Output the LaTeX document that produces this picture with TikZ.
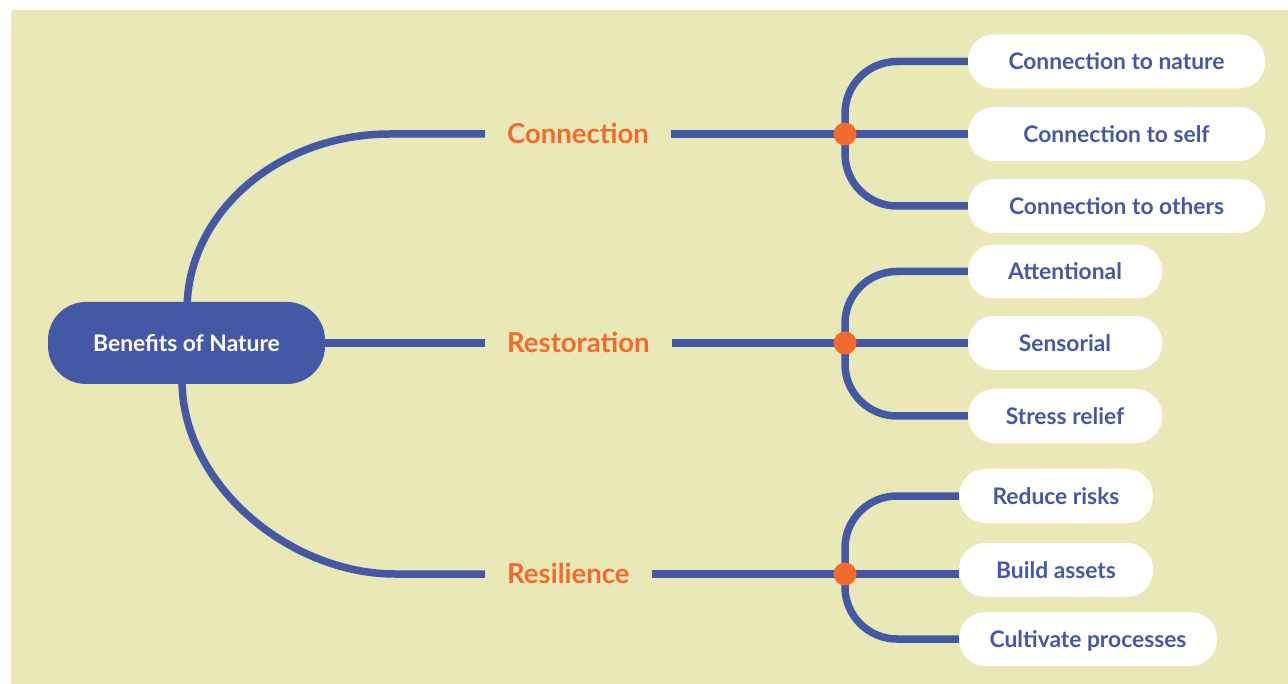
\documentclass[tikz,border=0pt]{standalone}
\usepackage{fontspec}
\setmainfont{Lato}
\usetikzlibrary{calc}

\definecolor{paper}{RGB}{233,232,183}
\definecolor{mapblue}{RGB}{69,88,166}
\definecolor{maporange}{RGB}{242,106,44}

\pgfdeclarelayer{back}
\pgfsetlayers{back,main}

% hub -> leaf: a short vertical run, a rounded bend, then straight into the leaf
% #1 hub, #2 leaf, #3 = 1 when the leaf lies above the hub, -1 when below
\newcommand\twig[3]{%
  \draw[link] (#1.center)
    -- ($(#1.center |- #2.west)+(0,#3*52)$)
    .. controls ($(#1.center |- #2.west)+(0,#3*23.3)$) and ($(#1.center |- #2.west)+(23.3,0)$)
    .. ($(#1.center |- #2.west)+(52,0)$)
    -- (#2.west);}

\begin{document}
\begin{tikzpicture}[x=1pt,y=-1pt,
  link/.style={draw=mapblue, line width=7.5pt},
  rootbox/.style={fill=mapblue, text=white, rounded corners=38pt,
    minimum width=277pt, minimum height=82pt, inner sep=0pt,
    text height=16.4pt, text depth=0pt,
    font=\bfseries\fontsize{22.8}{27}\selectfont},
  topic/.style={text=maporange, anchor=west, inner xsep=22pt, inner ysep=0pt,
    text height=19.8pt, text depth=0pt,
    font=\bfseries\fontsize{27.5}{33}\selectfont},
  leaf/.style={fill=white, text=mapblue, rounded corners=26pt,
    minimum height=54pt, inner sep=0pt,
    text height=16.4pt, text depth=0pt,
    font=\bfseries\fontsize{22.8}{27}\selectfont},
  hub/.style={circle, fill=maporange, minimum size=23pt, inner sep=0pt}
]
\useasboundingbox (0,0) rectangle (1288,684);

% central topic
\node[rootbox] (root) at (186.5,343) {Benefits of Nature};

% main branches
\node[topic] (conn) at (485,134) {Connection};
\node[topic] (rest) at (485,343) {Restoration};
\node[topic] (resi) at (485,574) {Resilience};

% junction dots
\node[hub] (h1) at (845,134) {};
\node[hub] (h2) at (845,343) {};
\node[hub] (h3) at (845,574) {};

% leaves
\node[leaf, minimum width=297pt] (c1) at (1116.5,61.5) {Connection to nature};
\node[leaf, minimum width=297pt] (c2) at (1116.5,134) {Connection to self};
\node[leaf, minimum width=297pt] (c3) at (1116.5,206) {Connection to others};
\node[leaf, minimum width=194pt] (r1) at (1065,271.5) {Attentional};
\node[leaf, minimum width=194pt] (r2) at (1065,343) {Sensorial};
\node[leaf, minimum width=194pt] (r3) at (1065,416) {Stress relief};
\node[leaf, minimum width=194pt] (s1) at (1056,496) {Reduce risks};
\node[leaf, minimum width=194pt] (s2) at (1056,570) {Build assets};
\node[leaf, minimum width=258pt] (s3) at (1088,639) {Cultivate processes};

\begin{pgfonlayer}{back}
  \fill[paper] (11,10) rectangle (1288,684);

  % central topic to the three branches
  \draw[link] (root.center) -- (187,310)
    .. controls (187,212.8) and (277.9,134) .. (390,134) -- (conn.west);
  \draw[link] (root.center) -- (rest.west);
  \draw[link] (root.center) -- (182,380)
    .. controls (182,485) and (290,574) .. (395,574) -- (resi.west);

  % branches to junctions
  \draw[link] (conn.east) -- (h1.center);
  \draw[link] (rest.east) -- (h2.center);
  \draw[link] (resi.east) -- (h3.center);

  % junctions to leaves
  \twig{h1}{c1}{1}
  \draw[link] (h1.center) -- (c2.west);
  \twig{h1}{c3}{-1}
  \twig{h2}{r1}{1}
  \draw[link] (h2.center) -- (r2.west);
  \twig{h2}{r3}{-1}
  \twig{h3}{s1}{1}
  \draw[link] (h3.center) -- (h3.center -| s2.west);
  \twig{h3}{s3}{-1}
\end{pgfonlayer}
\end{tikzpicture}
\end{document}
